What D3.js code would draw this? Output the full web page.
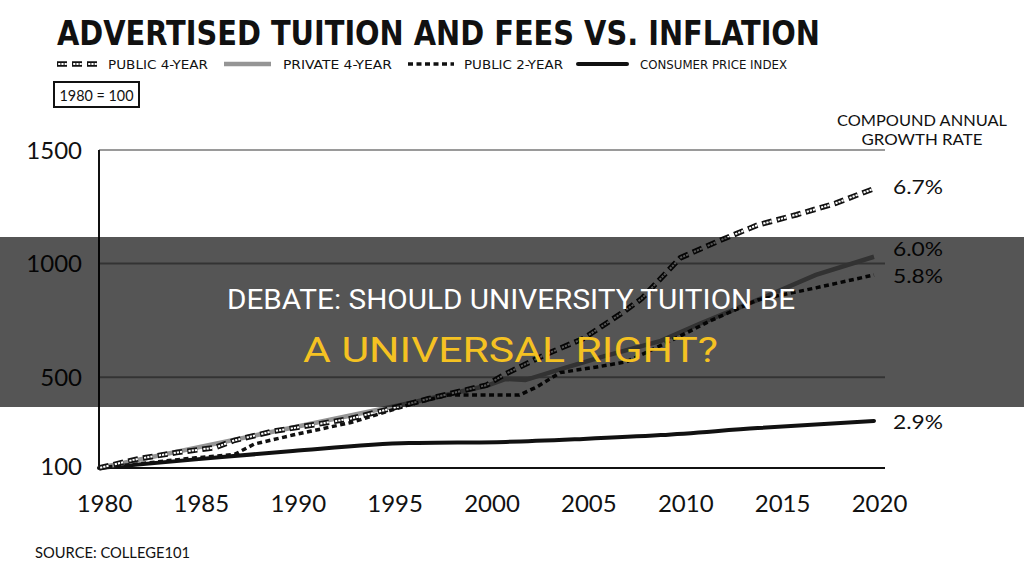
<!DOCTYPE html>
<html>
<head>
<meta charset="utf-8">
<script src="https://cdn.jsdelivr.net/npm/d3@7"></script>
<style>
  html, body { margin: 0; padding: 0; background: #fff; }
  svg { display: block; }
</style>
</head>
<body>
<svg id="chart" width="1024" height="577"></svg>
<script>
// ---------- DATA ----------
const chartTitle = "ADVERTISED TUITION AND FEES VS. INFLATION";
const legendLabels = ["PUBLIC 4-YEAR", "PRIVATE 4-YEAR", "PUBLIC 2-YEAR", "CONSUMER PRICE INDEX"];
const baseNote = "1980 = 100";
const growthHeader = ["COMPOUND ANNUAL", "GROWTH RATE"];
const growthLabels = ["6.7%", "6.0%", "5.8%", "2.9%"];
const sourceText = "SOURCE: COLLEGE101";
const bannerLine1 = "DEBATE: SHOULD UNIVERSITY TUITION BE";
const bannerLine2 = "A UNIVERSAL RIGHT?";

const xTicks = [1980, 1985, 1990, 1995, 2000, 2005, 2010, 2015, 2020];
const yTicks = [100, 500, 1000, 1500];

const pub4Years  = [1980, 1982, 1984, 1986, 1987, 1989, 1991, 1993, 1995, 1997, 1999, 2000, 2001, 2003, 2005, 2007, 2008, 2009, 2010, 2012, 2014, 2016, 2018, 2020];
const pub4Values = [100, 140, 168, 190, 222, 262, 289, 318, 360, 405, 445, 465, 515, 598, 670, 783, 845, 935, 1025, 1100, 1170, 1215, 1265, 1330];

const privYears  = [1980, 1996, 2000, 2001, 2002, 2004, 2006, 2009, 2011, 2014, 2017, 2020];
const privValues = [100, 385, 462, 492, 487, 540, 590, 660, 735, 840, 950, 1030];

const pub2Years  = [1980, 1982, 1985, 1987, 1988, 1990, 1993, 1996, 1998, 2001.7, 2002.6, 2003.8, 2005.7, 2007.2, 2008.2, 2009.9, 2011.6, 2014, 2017, 2020];
const pub2Values = [100, 118, 145, 160, 205, 245, 300, 378, 421, 421, 457, 520, 545, 567, 607, 677, 750, 840, 893, 950];

const cpiYears  = [1980, 1985, 1990, 1996, 2001, 2005, 2009, 2014, 2020];
const cpiValues = [100, 138, 175, 210, 215, 228, 245, 276, 307];

// ---------- SETUP ----------
const svg = d3.select("#chart");
const handFont = "Lato, 'Open Sans', sans-serif";
const condFont = "'DejaVu Sans Condensed', 'DejaVu Sans', sans-serif";

const x = d3.scaleLinear().domain([1980, 2020]).range([99, 874]);
const y = d3.scaleLinear().domain([100, 1500]).range([468, 150]);
const gridRight = 885;

const zip = (xs, vs) => xs.map((yr, i) => ({ year: yr, value: vs[i] }));
const seriesPub4 = zip(pub4Years, pub4Values);
const seriesPriv = zip(privYears, privValues);
const seriesPub2 = zip(pub2Years, pub2Values);
const seriesCpi  = zip(cpiYears, cpiValues);

// ---------- TITLE ----------
svg.append("text")
  .attr("x", 57).attr("y", 45)
  .attr("font-family", condFont).attr("font-weight", "bold")
  .attr("font-size", 33)
  .attr("textLength", 763).attr("lengthAdjust", "spacingAndGlyphs")
  .attr("fill", "#111")
  .text(chartTitle);

// ---------- LINE STYLES ----------
function drawPub4(g, pathD) {
  g.append("path").attr("d", pathD).attr("fill", "none")
    .attr("stroke", "#111").attr("stroke-width", 5.5)
    .attr("stroke-dasharray", "10 5");
  g.append("path").attr("d", pathD).attr("fill", "none")
    .attr("stroke", "#fff").attr("stroke-width", 2)
    .attr("stroke-dasharray", "0 1.2 2.2 1 2.2 1 2.2 5.2");
}
function drawPriv(g, pathD) {
  g.append("path").attr("d", pathD).attr("fill", "none")
    .attr("stroke", "#959595").attr("stroke-width", 4.5);
}
function drawPub2(g, pathD) {
  g.append("path").attr("d", pathD).attr("fill", "none")
    .attr("stroke", "#111").attr("stroke-width", 3.5)
    .attr("stroke-dasharray", "5 3.5");
}
function drawCpi(g, pathD) {
  g.append("path").attr("d", pathD).attr("fill", "none")
    .attr("stroke", "#111").attr("stroke-width", 4)
    .attr("stroke-linecap", "round");
}

// ---------- LEGEND ----------
const legend = svg.append("g");
const legendY = 64;
const legendItems = [
  { sx0: 57, sx1: 100, tx: 108, tw: 100, draw: drawPub4 },
  { sx0: 224, sx1: 271, tx: 283, tw: 109, draw: drawPriv },
  { sx0: 408, sx1: 454, tx: 464, tw: 99, draw: drawPub2 },
  { sx0: 578, sx1: 627, tx: 640, tw: 147, draw: drawCpi }
];
legendItems.forEach((it, i) => {
  it.draw(legend, d3.line()([[it.sx0, legendY], [it.sx1, legendY]]));
  legend.append("text")
    .attr("x", it.tx).attr("y", legendY + 5)
    .attr("font-family", condFont).attr("font-size", 13)
    .attr("textLength", it.tw).attr("lengthAdjust", "spacingAndGlyphs")
    .attr("fill", "#111")
    .text(legendLabels[i]);
});

// base note box
svg.append("rect")
  .attr("x", 54).attr("y", 82).attr("width", 85).attr("height", 25)
  .attr("fill", "#fff").attr("stroke", "#111").attr("stroke-width", 2);
svg.append("text")
  .attr("x", 96.5).attr("y", 101)
  .attr("text-anchor", "middle")
  .attr("font-family", handFont).attr("font-size", 16)
  .attr("textLength", 74).attr("lengthAdjust", "spacingAndGlyphs")
  .attr("fill", "#111")
  .text(baseNote);

// growth header
svg.append("text")
  .attr("x", 922).attr("y", 126).attr("text-anchor", "middle")
  .attr("font-family", handFont).attr("font-size", 15.5)
  .attr("textLength", 170).attr("lengthAdjust", "spacingAndGlyphs")
  .attr("fill", "#111").text(growthHeader[0]);
svg.append("text")
  .attr("x", 922).attr("y", 145).attr("text-anchor", "middle")
  .attr("font-family", handFont).attr("font-size", 15.5)
  .attr("textLength", 121).attr("lengthAdjust", "spacingAndGlyphs")
  .attr("fill", "#111").text(growthHeader[1]);

// ---------- GRID & AXES ----------
const grid = svg.append("g");
grid.selectAll("line.grid")
  .data(yTicks.filter(v => v !== 100))
  .join("line")
  .attr("class", "grid")
  .attr("x1", x(1980)).attr("x2", gridRight)
  .attr("y1", d => y(d)).attr("y2", d => y(d))
  .attr("stroke", "#9a9a9a").attr("stroke-width", 2);

// y axis
const yAxisG = svg.append("g")
  .attr("transform", `translate(${x(1980)},0)`)
  .call(d3.axisLeft(y).tickValues(yTicks).tickFormat(d3.format("d")).tickSize(0).tickPadding(17));
yAxisG.select(".domain").remove();
yAxisG.selectAll("text")
  .attr("font-family", handFont).attr("font-size", 24)
  .attr("fill", "#111")
  .attr("dy", (d) => d === 100 ? "0.25em" : "0.35em");

// x axis
const xAxisG = svg.append("g")
  .attr("transform", `translate(5,${y(100)})`)
  .call(d3.axisBottom(x).tickValues(xTicks).tickFormat(d3.format("d")).tickSize(0).tickPadding(27));
xAxisG.select(".domain").remove();
xAxisG.selectAll("text")
  .attr("font-family", handFont).attr("font-size", 24)
  .attr("fill", "#111")
  .attr("dy", "0.71em");

// axis lines
svg.append("line")
  .attr("x1", x(1980)).attr("x2", x(1980))
  .attr("y1", y(1500)).attr("y2", y(100))
  .attr("stroke", "#111").attr("stroke-width", 2);
svg.append("line")
  .attr("x1", x(1980)).attr("x2", gridRight)
  .attr("y1", y(100)).attr("y2", y(100))
  .attr("stroke", "#111").attr("stroke-width", 2);

// ---------- SERIES ----------
const lineLinear = d3.line().x(d => x(d.year)).y(d => y(d.value));
const lineSmooth = d3.line().x(d => x(d.year)).y(d => y(d.value)).curve(d3.curveMonotoneX);

const plot = svg.append("g");
drawCpi(plot, lineSmooth(seriesCpi));
drawPriv(plot, lineLinear(seriesPriv));
drawPub2(plot, lineLinear(seriesPub2));
drawPub4(plot, lineLinear(seriesPub4));

// growth rate labels
const endValues = [pub4Values[pub4Values.length - 1], privValues[privValues.length - 1],
                   pub2Values[pub2Values.length - 1], cpiValues[cpiValues.length - 1]];
const labelShift = [-2, -8, 1, 1];
svg.selectAll("text.rate")
  .data(growthLabels)
  .join("text")
  .attr("class", "rate")
  .attr("x", 893)
  .attr("y", (d, i) => y(endValues[i]) + labelShift[i])
  .attr("dy", "0.35em")
  .attr("font-family", handFont).attr("font-size", 20)
  .attr("textLength", 50).attr("lengthAdjust", "spacingAndGlyphs")
  .attr("fill", "#111")
  .text(d => d);

// source
svg.append("text")
  .attr("x", 35).attr("y", 558)
  .attr("font-family", handFont).attr("font-size", 15)
  .attr("textLength", 155).attr("lengthAdjust", "spacingAndGlyphs")
  .attr("fill", "#111")
  .text(sourceText);

// ---------- BANNER ----------
svg.append("rect")
  .attr("x", 0).attr("y", 237).attr("width", 1024).attr("height", 170)
  .attr("fill", "#000").attr("fill-opacity", 0.665);
svg.append("text")
  .attr("x", 511).attr("y", 309).attr("text-anchor", "middle")
  .attr("font-family", "Roboto, 'Liberation Sans', sans-serif")
  .attr("font-size", 27)
  .attr("textLength", 568).attr("lengthAdjust", "spacingAndGlyphs")
  .attr("fill", "#ffffff")
  .text(bannerLine1);
svg.append("text")
  .attr("x", 510.5).attr("y", 362).attr("text-anchor", "middle")
  .attr("font-family", "Roboto, 'Liberation Sans', sans-serif")
  .attr("font-size", 35)
  .attr("textLength", 415).attr("lengthAdjust", "spacingAndGlyphs")
  .attr("fill", "#f5c222")
  .text(bannerLine2);
</script>
</body>
</html>
